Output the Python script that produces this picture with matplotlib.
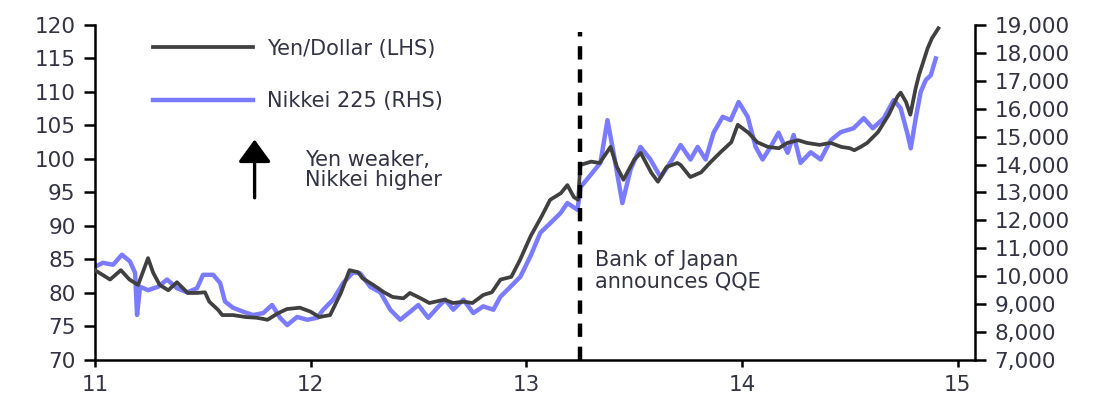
import matplotlib.pyplot as plt
import matplotlib.ticker as mticker

# Yen/Dollar (left axis), decimal years
yen_x = [11.00, 11.07, 11.12, 11.16, 11.20, 11.246, 11.27, 11.30, 11.34, 11.38,
         11.43, 11.47, 11.51, 11.53, 11.57, 11.59, 11.64, 11.70, 11.75, 11.80,
         11.85, 11.89, 11.95, 12.00, 12.04, 12.09, 12.14, 12.18, 12.22, 12.24,
         12.29, 12.34, 12.38, 12.43, 12.46, 12.51, 12.55, 12.62, 12.66, 12.71,
         12.75, 12.80, 12.84, 12.88, 12.93, 12.97, 13.02, 13.07, 13.11, 13.16,
         13.19, 13.22, 13.24, 13.25, 13.30, 13.34, 13.39, 13.42, 13.45, 13.50,
         13.53, 13.58, 13.61, 13.65, 13.70, 13.715, 13.76, 13.81, 13.85, 13.90,
         13.95, 13.98, 14.03, 14.07, 14.12, 14.17, 14.21, 14.26, 14.30, 14.36,
         14.41, 14.46, 14.50, 14.52, 14.55, 14.58, 14.63, 14.68, 14.72, 14.735,
         14.76, 14.78, 14.805, 14.82, 14.84, 14.86, 14.88, 14.91]
yen = [83.4, 82.0, 83.4, 82.0, 81.2, 85.2, 83.0, 81.2, 80.4, 81.6,
       80.0, 80.0, 80.1, 78.7, 77.5, 76.7, 76.7, 76.4, 76.3, 76.0,
       77.0, 77.6, 77.8, 77.2, 76.4, 76.7, 80.0, 83.4, 83.1, 82.2,
       81.2, 80.1, 79.4, 79.2, 80.0, 79.2, 78.5, 79.0, 78.5, 78.7,
       78.5, 79.7, 80.1, 82.0, 82.4, 84.9, 88.5, 91.4, 93.9, 94.9,
       96.1, 94.3, 93.9, 99.1, 99.6, 99.4, 101.8, 98.8, 96.9, 99.9,
       100.9, 97.9, 96.6, 98.8, 99.4, 99.1, 97.3, 98.0, 99.4, 101.0,
       102.5, 105.1, 103.9, 102.5, 101.8, 101.6, 102.4, 102.8, 102.4, 102.1,
       102.4, 101.8, 101.6, 101.3, 101.8, 102.4, 104.0, 106.6, 109.3, 109.9,
       108.5, 106.6, 110.6, 112.5, 114.5, 116.5, 118.0, 119.5]

# Nikkei 225 (right axis)
nik_x = [11.00, 11.037, 11.084, 11.125, 11.162, 11.186, 11.195, 11.209, 11.246, 11.292,
         11.334, 11.381, 11.427, 11.473, 11.501, 11.548, 11.580, 11.603, 11.640, 11.687,
         11.733, 11.780, 11.821, 11.858, 11.891, 11.937, 11.984, 12.030, 12.058, 12.104,
         12.151, 12.197, 12.230, 12.276, 12.323, 12.369, 12.415, 12.462, 12.499, 12.545,
         12.587, 12.624, 12.661, 12.708, 12.754, 12.800, 12.847, 12.879, 12.926, 12.972,
         13.019, 13.065, 13.111, 13.158, 13.190, 13.237, 13.251, 13.297, 13.343, 13.376,
         13.404, 13.445, 13.483, 13.529, 13.575, 13.622, 13.668, 13.715, 13.761, 13.794,
         13.831, 13.868, 13.910, 13.947, 13.984, 14.026, 14.063, 14.095, 14.132, 14.169,
         14.211, 14.239, 14.271, 14.318, 14.364, 14.411, 14.457, 14.517, 14.564, 14.606,
         14.657, 14.703, 14.735, 14.768, 14.782, 14.805, 14.828, 14.852, 14.875, 14.898]
nikkei = [10340, 10480, 10410, 10770, 10530, 10120, 8610, 9620, 9500, 9620,
          9880, 9570, 9420, 9570, 10050, 10050, 9760, 9090, 8870, 8730,
          8610, 8680, 8970, 8510, 8250, 8540, 8440, 8510, 8800, 9160,
          9760, 10140, 10100, 9620, 9420, 8800, 8440, 8730, 8970, 8510,
          8870, 9160, 8800, 9160, 8680, 8920, 8800, 9260, 9620, 9980,
          10720, 11560, 11900, 12260, 12620, 12380, 13190, 13620, 14060, 15590,
          14420, 12620, 13820, 14630, 14180, 13550, 14080, 14700, 14180, 14630,
          14180, 15140, 15710, 15590, 16240, 15710, 14630, 14180, 14630, 15140,
          14420, 15060, 14060, 14440, 14180, 14870, 15160, 15300, 15660, 15300,
          15660, 16310, 16020, 15060, 14580, 15660, 16600, 17030, 17200, 17800]

x_ticks = [11, 12, 13, 14, 15]
qqe_date = 13.25

txt = '#333344'
plt.rcParams['font.family'] = ['DejaVu Sans']

fig = plt.figure(figsize=(11.07, 3.96), dpi=100)
ax = fig.add_axes([0.0858, 0.091, 0.795, 0.846])
ax2 = ax.twinx()

l1, = ax.plot(yen_x, yen, color='#404040', lw=2.7, label='Yen/Dollar (LHS)', zorder=3)
l2, = ax2.plot(nik_x, nikkei, color='#7b7bff', lw=3.2, label='Nikkei 225 (RHS)', zorder=2)
ax.set_zorder(ax2.get_zorder() + 1)
ax.patch.set_visible(False)

ax.set_xlim(11, 15.08)
ax.set_ylim(70, 120)
ax2.set_ylim(7000, 19000)
ax.set_xticks(x_ticks)
ax.set_yticks(range(70, 121, 5))
ax2.set_yticks(range(7000, 19001, 1000))
ax2.yaxis.set_major_formatter(mticker.StrMethodFormatter('{x:,.0f}'))

for a in (ax, ax2):
    a.spines['top'].set_visible(False)
    for s in a.spines.values():
        s.set_linewidth(1.8)
ax.spines['right'].set_visible(False)
ax2.spines['left'].set_visible(False)
ax2.spines['bottom'].set_visible(False)

ax.tick_params(axis='y', direction='out', length=8, width=1.8, labelsize=15.5, labelcolor=txt, pad=6)
ax.tick_params(axis='x', direction='out', length=5, width=1.8, labelsize=15.5, labelcolor=txt, pad=6)
ax2.tick_params(axis='y', direction='out', length=8, width=1.8, labelsize=15.5, labelcolor=txt, pad=6)

ax.axvline(qqe_date, ymin=0, ymax=0.98, color='black', lw=3.2, linestyle=(0, (3, 2.2)), zorder=4)

ax.legend(handles=[l1, l2], loc='upper left', bbox_to_anchor=(0.045, 1.015), frameon=False,
          fontsize=15, handlelength=4.8, handletextpad=0.65, labelspacing=1.55,
          labelcolor=txt)

ax.annotate('', xy=(11.74, 102.9), xytext=(11.74, 94.2),
            arrowprops=dict(arrowstyle='-|>,head_width=0.4,head_length=0.55', color='black',
                            lw=2.4, mutation_scale=25, shrinkA=0, shrinkB=0))
ax.text(11.975, 98.3, 'Yen weaker,\nNikkei higher', fontsize=15, color=txt,
        va='center', ha='left', linespacing=1.0)
ax.text(13.32, 83.3, 'Bank of Japan\nannounces QQE', fontsize=15, color=txt,
        va='center', ha='left', linespacing=1.1)

plt.savefig('out.png', dpi=100)
